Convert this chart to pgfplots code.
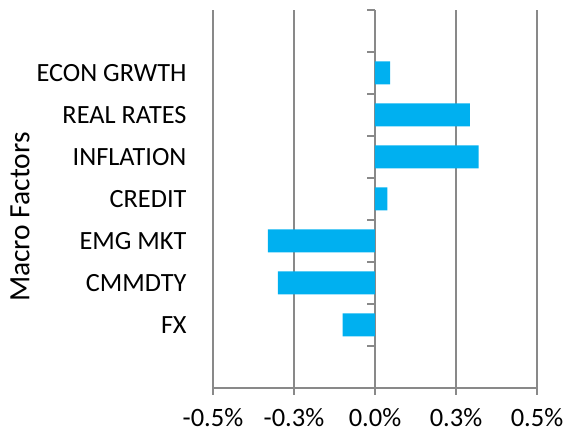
\documentclass[border=0pt]{standalone}
\usepackage{fontspec}
\setmainfont{Carlito}
\usepackage{pgfplots}
\pgfplotsset{compat=1.18}
\definecolor{barblue}{HTML}{00B0F0}
\definecolor{gridgray}{HTML}{898989}
\begin{document}
\begin{tikzpicture}
\begin{axis}[
  scale only axis, width=324pt, height=378pt,
  xmin=-0.5, xmax=0.5, ymin=-0.5, ymax=8.5,
  xtick={-0.5,-0.25,0,0.25,0.5},
  xticklabels={-0.5\%,-0.3\%,0.0\%,0.3\%,0.5\%},
  ytick={1,...,7},
  yticklabels={FX,CMMDTY,EMG MKT,CREDIT,INFLATION,REAL RATES,ECON GRWTH},
  axis x line*=bottom, axis y line*=left,
  x axis line style={gridgray, line width=1.5pt, -},
  y axis line style={draw=none},
  xmajorgrids, major grid style={gridgray, line width=1.5pt},
  xtick pos=bottom, ytick pos=left,
  tick align=outside, major tick length=7pt,
  xtick style={gridgray, line width=1.5pt},
  ytick style={draw=none},
  yticklabel style={font=\fontsize{26.3}{30}\selectfont, anchor=east, xshift=-16pt},
  xticklabel style={font=\fontsize{26.5}{30}\selectfont, anchor=north, yshift=-10pt},
  ylabel={Macro Factors},
  label style={font=\fontsize{29.5}{32}\selectfont},
  ylabel style={at={(ticklabel cs:0.455)}, anchor=south, xshift=-1pt},
]
\addplot[xbar, bar width=23pt, fill=barblue, draw=none]
  coordinates {(-0.100,1) (-0.300,2) (-0.331,3) (0.038,4)
               (0.320,5) (0.293,6) (0.047,7)};
\pgfplotsinvokeforeach{-0.5,0.5,1.5,2.5,3.5,4.5,5.5,6.5,7.5,8.5}{
  \draw[gridgray, line width=1.5pt] (axis cs:0,#1) -- ++(-8pt,0pt);
}
\coordinate (pb) at (rel axis cs:0,0);
\end{axis}
\pgfresetboundingbox
\path[shift={(pb)}] (-213pt,-48pt) rectangle (353pt,388pt);
\end{tikzpicture}
\end{document}
